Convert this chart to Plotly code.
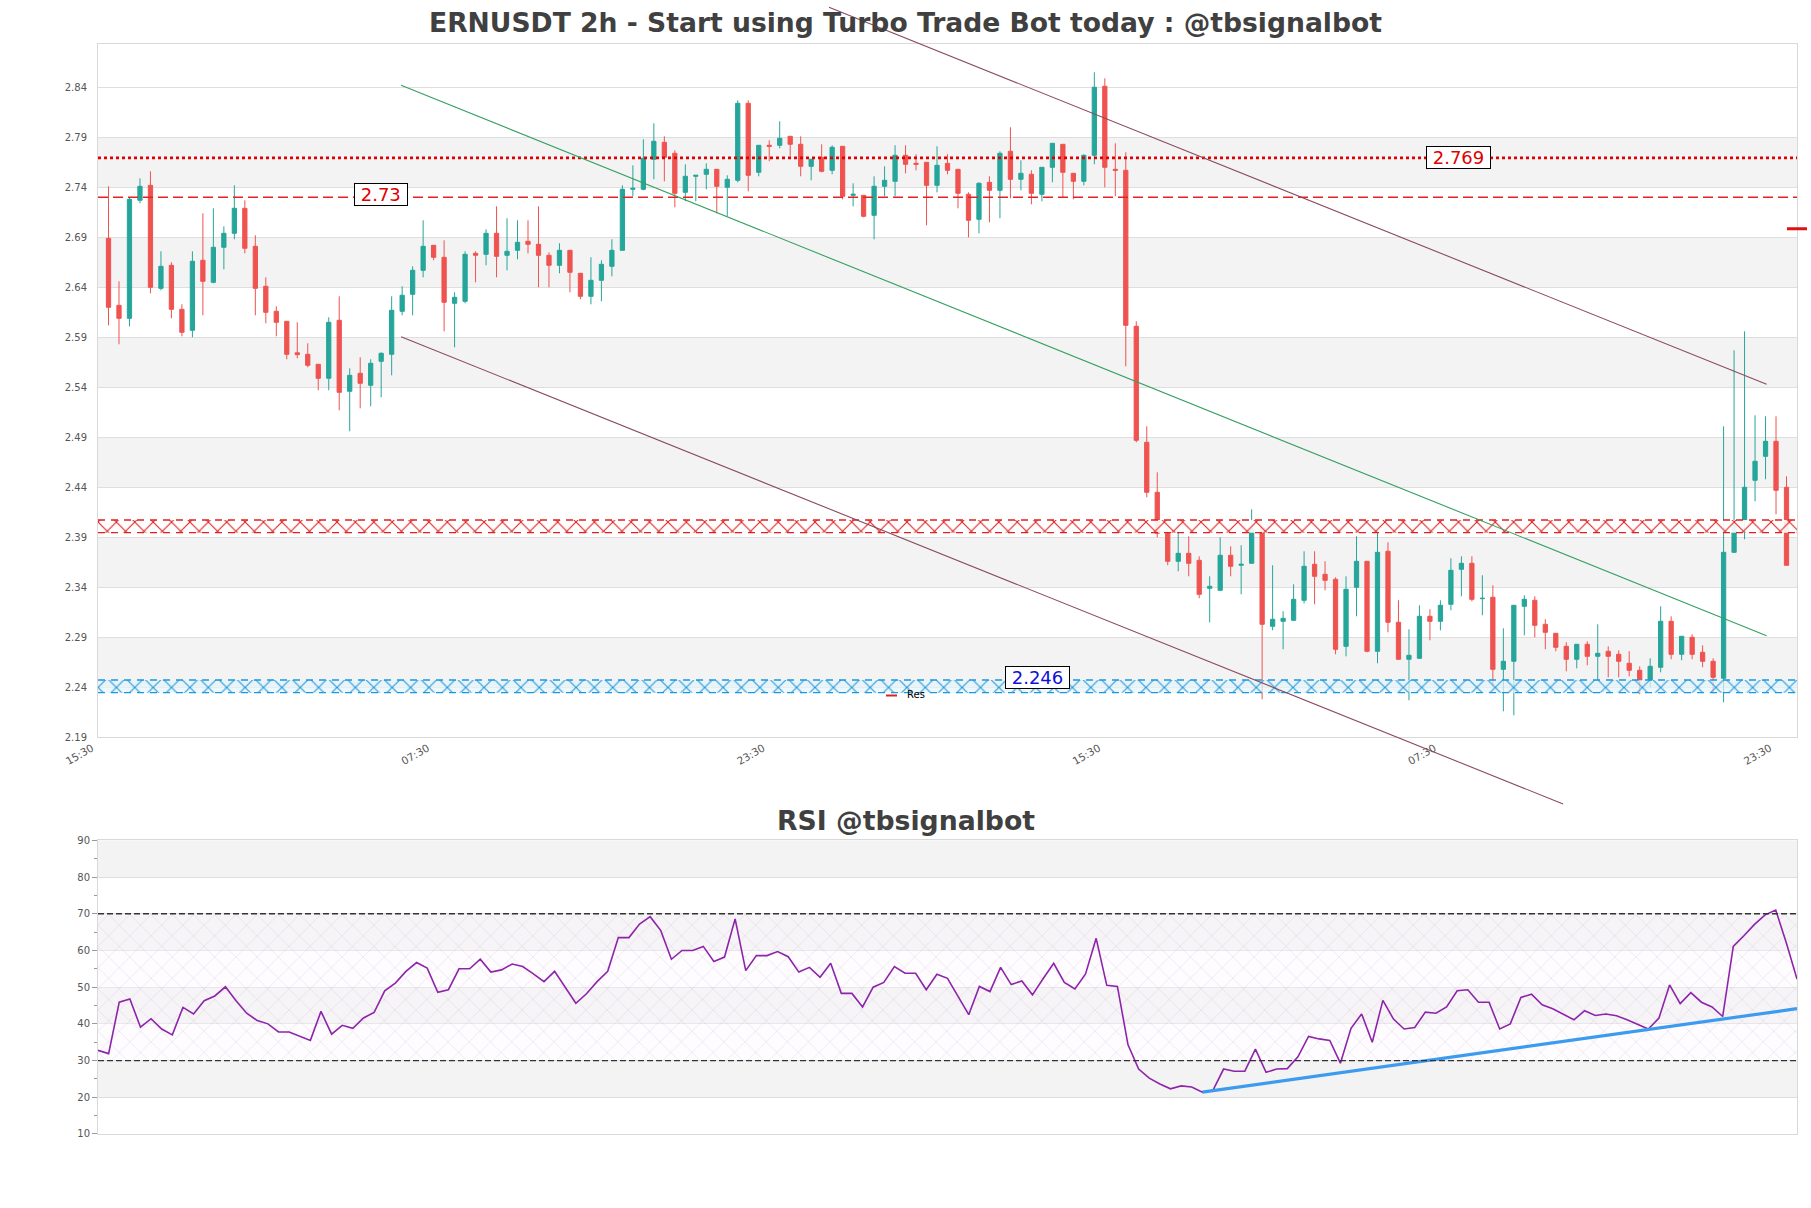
import plotly.graph_objects as go

# ---------------- data ----------------
time_labels = ["15:30", "07:30", "23:30", "15:30", "07:30", "23:30"]
time_tick_pos = [-1, 31, 63, 95, 127, 159]

open_ = [2.689, 2.622, 2.609, 2.727, 2.742, 2.639, 2.662, 2.618, 2.597, 2.667,
         2.645, 2.680, 2.694, 2.719, 2.681, 2.641, 2.616, 2.606, 2.5745, 2.573,
         2.563, 2.549, 2.607, 2.536, 2.554, 2.542, 2.566, 2.573, 2.616, 2.633,
         2.657, 2.682, 2.670, 2.624, 2.626, 2.674, 2.673, 2.694, 2.672, 2.677,
         2.686, 2.683, 2.672, 2.662, 2.677, 2.654, 2.631, 2.647, 2.661, 2.677,
         2.738, 2.738, 2.768, 2.785, 2.774, 2.735, 2.751, 2.753, 2.758, 2.740,
         2.747, 2.824, 2.755, 2.782, 2.782, 2.791, 2.783, 2.761, 2.770, 2.757,
         2.781, 2.732, 2.732, 2.712, 2.741, 2.746, 2.772, 2.764, 2.765, 2.742,
         2.764, 2.758, 2.733, 2.708, 2.745, 2.737, 2.776, 2.748, 2.753, 2.733,
         2.760, 2.783, 2.754, 2.746, 2.772, 2.841, 2.758, 2.757, 2.601, 2.485,
         2.435, 2.394, 2.366, 2.374, 2.367, 2.339, 2.337, 2.372, 2.362, 2.364,
         2.400, 2.301, 2.306, 2.307, 2.327, 2.363, 2.353, 2.348, 2.281, 2.340,
         2.366, 2.276, 2.376, 2.305, 2.268, 2.269, 2.311, 2.306, 2.323, 2.358,
         2.364, 2.3286, 2.330, 2.258, 2.266, 2.321, 2.327, 2.303, 2.294, 2.281,
         2.268, 2.283, 2.271, 2.276, 2.273, 2.264, 2.257, 2.247, 2.260, 2.306,
         2.273, 2.290, 2.275, 2.266, 2.249, 2.375, 2.407, 2.447, 2.471, 2.486,
         2.440]
high = [2.741, 2.646, 2.730, 2.749, 2.756, 2.676, 2.665, 2.623, 2.676, 2.714,
        2.719, 2.701, 2.742, 2.727, 2.692, 2.650, 2.621, 2.606, 2.605, 2.584,
        2.563, 2.610, 2.631, 2.559, 2.570, 2.568, 2.575, 2.631, 2.641, 2.661,
        2.707, 2.682, 2.687, 2.635, 2.676, 2.676, 2.698, 2.721, 2.709, 2.707,
        2.707, 2.721, 2.675, 2.684, 2.677, 2.654, 2.670, 2.667, 2.688, 2.742,
        2.762, 2.788, 2.804, 2.791, 2.777, 2.763, 2.752, 2.764, 2.758, 2.752,
        2.827, 2.827, 2.782, 2.787, 2.806, 2.791, 2.791, 2.768, 2.783, 2.782,
        2.781, 2.744, 2.732, 2.751, 2.761, 2.782, 2.782, 2.773, 2.765, 2.781,
        2.773, 2.758, 2.735, 2.745, 2.751, 2.776, 2.800, 2.767, 2.757, 2.760,
        2.784, 2.783, 2.754, 2.773, 2.855, 2.849, 2.784, 2.775, 2.606, 2.501,
        2.455, 2.394, 2.406, 2.391, 2.371, 2.351, 2.390, 2.381, 2.382, 2.418,
        2.400, 2.362, 2.316, 2.343, 2.376, 2.376, 2.366, 2.350, 2.351, 2.391,
        2.366, 2.397, 2.385, 2.327, 2.298, 2.322, 2.318, 2.327, 2.369, 2.371,
        2.371, 2.352, 2.342, 2.299, 2.322, 2.332, 2.331, 2.308, 2.294, 2.285,
        2.283, 2.286, 2.303, 2.281, 2.277, 2.276, 2.261, 2.269, 2.321, 2.311,
        2.291, 2.293, 2.282, 2.269, 2.501, 2.577, 2.596, 2.512, 2.511, 2.511,
        2.451]
low = [2.602, 2.583, 2.601, 2.724, 2.634, 2.637, 2.609, 2.591, 2.590, 2.612,
       2.644, 2.658, 2.688, 2.674, 2.612, 2.604, 2.591, 2.568, 2.569, 2.560,
       2.537, 2.537, 2.517, 2.496, 2.519, 2.521, 2.530, 2.552, 2.612, 2.612,
       2.650, 2.667, 2.596, 2.580, 2.624, 2.645, 2.662, 2.650, 2.657, 2.668,
       2.674, 2.640, 2.640, 2.654, 2.635, 2.628, 2.623, 2.626, 2.651, 2.677,
       2.731, 2.737, 2.748, 2.746, 2.720, 2.726, 2.726, 2.738, 2.714, 2.711,
       2.745, 2.736, 2.751, 2.766, 2.779, 2.771, 2.751, 2.747, 2.755, 2.753,
       2.728, 2.721, 2.710, 2.688, 2.731, 2.731, 2.754, 2.757, 2.702, 2.735,
       2.753, 2.719, 2.690, 2.694, 2.705, 2.709, 2.729, 2.737, 2.723, 2.726,
       2.745, 2.730, 2.728, 2.742, 2.763, 2.740, 2.731, 2.561, 2.485, 2.430,
       2.390, 2.362, 2.356, 2.351, 2.329, 2.305, 2.337, 2.351, 2.333, 2.364,
       2.228, 2.297, 2.278, 2.307, 2.324, 2.323, 2.337, 2.273, 2.271, 2.311,
       2.275, 2.264, 2.295, 2.268, 2.227, 2.269, 2.287, 2.297, 2.317, 2.331,
       2.326, 2.312, 2.241, 2.216, 2.212, 2.292, 2.290, 2.278, 2.276, 2.256,
       2.259, 2.262, 2.247, 2.250, 2.250, 2.251, 2.233, 2.240, 2.255, 2.268,
       2.267, 2.268, 2.260, 2.234, 2.225, 2.375, 2.388, 2.426, 2.448, 2.413,
       2.362]
close = [2.620, 2.609, 2.728, 2.741, 2.640, 2.661, 2.618, 2.595, 2.666, 2.646,
         2.680, 2.694, 2.719, 2.679, 2.639, 2.615, 2.605, 2.573, 2.5727, 2.562,
         2.549, 2.605, 2.535, 2.552, 2.544, 2.564, 2.574, 2.617, 2.632, 2.657,
         2.681, 2.670, 2.625, 2.630, 2.673, 2.672, 2.694, 2.671, 2.676, 2.685,
         2.683, 2.672, 2.662, 2.677, 2.655, 2.631, 2.647, 2.663, 2.677, 2.738,
         2.739, 2.769, 2.786, 2.770, 2.734, 2.751, 2.752, 2.758, 2.741, 2.748,
         2.824, 2.752, 2.782, 2.781, 2.789, 2.783, 2.761, 2.768, 2.756, 2.780,
         2.731, 2.733, 2.711, 2.741, 2.747, 2.772, 2.763, 2.763, 2.742, 2.762,
         2.757, 2.734, 2.707, 2.744, 2.737, 2.774, 2.748, 2.754, 2.734, 2.760,
         2.784, 2.755, 2.746, 2.772, 2.840, 2.760, 2.757, 2.602, 2.487, 2.435,
         2.394, 2.366, 2.374, 2.364, 2.333, 2.341, 2.372, 2.361, 2.363, 2.399,
         2.303, 2.308, 2.309, 2.328, 2.361, 2.351, 2.347, 2.278, 2.338, 2.366,
         2.276, 2.375, 2.305, 2.268, 2.272, 2.311, 2.306, 2.322, 2.357, 2.364,
         2.328, 2.329, 2.258, 2.266, 2.322, 2.328, 2.302, 2.295, 2.280, 2.268,
         2.283, 2.271, 2.274, 2.271, 2.266, 2.257, 2.247, 2.261, 2.306, 2.273,
         2.291, 2.273, 2.266, 2.250, 2.375, 2.404, 2.440, 2.466, 2.486, 2.437,
         2.362]
rsi = [32.8, 31.9, 45.9, 46.8, 39.1, 41.4, 38.6, 37.0, 44.5, 42.7,
       46.3, 47.6, 50.1, 46.3, 42.9, 40.9, 40.0, 37.8, 37.8, 36.6,
       35.5, 43.4, 37.2, 39.6, 38.8, 41.6, 43.1, 49.0, 51.1, 54.3,
       56.7, 55.2, 48.6, 49.3, 55.0, 55.0, 57.6, 54.1, 54.7, 56.3,
       55.6, 53.6, 51.5, 54.3, 50.0, 45.6, 48.2, 51.5, 54.3, 63.5,
       63.5, 67.2, 69.2, 65.4, 57.6, 60.0, 60.0, 61.1, 57.0, 58.2,
       68.6, 54.5, 58.6, 58.6, 59.7, 58.3, 54.1, 55.4, 52.7, 56.5,
       48.3, 48.3, 44.6, 50.0, 51.3, 55.6, 53.8, 53.8, 49.3, 53.5,
       52.4, 47.5, 42.5, 50.2, 48.8, 55.4, 50.7, 51.7, 47.9, 52.3,
       56.5, 51.3, 49.5, 53.6, 63.3, 50.5, 50.2, 34.3, 27.7, 25.2,
       23.6, 22.3, 23.1, 22.8, 21.4, 21.9, 27.7, 27.1, 27.1, 33.1,
       26.8, 27.7, 27.8, 31.0, 36.6, 35.9, 35.5, 29.3, 38.8, 42.7,
       35.0, 46.4, 41.3, 38.6, 39.0, 43.2, 42.9, 44.6, 49.0, 49.3,
       45.9, 45.9, 38.6, 40.0, 47.2, 48.1, 45.2, 44.1, 42.5, 41.1,
       43.6, 42.3, 42.7, 42.2, 41.1, 39.8, 38.6, 41.6, 50.6, 45.5,
       48.5, 45.9, 44.6, 42.0, 61.1, 64.0, 67.1, 69.7, 71.0, 62.0,
       52.2]

# levels / zones / trendlines (data units)
res_dotted_level = 2.7695
res_dashed_level = 2.730
res_zone = [2.3946, 2.4073]
sup_zone = [2.2346, 2.2473]
last_price_mark = 2.6986
channel_upper = [[68.7, 158.1], [2.920, 2.543]]
channel_lower = [[27.9, 138.7], [2.5906, 2.1233]]
channel_mid = [[27.9, 158.1], [2.842, 2.2916]]
rsi_trend = [[104, 160], [21.4, 44.15]]
labels = [("2.769", 128.7, 2.7703, "#e00000"),
          ("2.73", 26.0, 2.7325, "#e00000"),
          ("2.246", 88.6, 2.2496, "#1010d8")]

# ---------------- geometry ----------------
W, H = 1811, 1208
ML, MR, MT, MB = 98, 14, 44, 74
main_dom = [0.36394, 1.0]
rsi_dom = [0.0, 0.26945]
y_rng = [2.19, 2.8833]
x_rng = [-1.001, 161]

idx = list(range(len(open_)))
ridx = list(range(len(rsi)))

fig = go.Figure()

FONT = "DejaVu Sans"
GRID = "#dedede"
BAND = "#f3f3f3"

# hatched zones
for (lo, hi), col, bg in [(res_zone, "#e02020", "rgba(255,255,255,0.9)"),
                          (sup_zone, "#1e96dc", "rgba(230,245,252,0.7)")]:
    fig.add_trace(go.Scatter(
        x=[x_rng[0], x_rng[1], x_rng[1], x_rng[0], x_rng[0]],
        y=[lo, lo, hi, hi, lo], mode="lines", fill="toself",
        line=dict(width=0, color=col), fillcolor="rgba(0,0,0,0)",
        fillpattern=dict(shape="x", fgcolor=col, bgcolor=bg, fgopacity=1,
                         size=13, solidity=0.16),
        xaxis="x", yaxis="y", showlegend=False, hoverinfo="skip"))
    for lv in (lo, hi):
        fig.add_shape(type="line", xref="paper", yref="y", x0=0, x1=1, y0=lv, y1=lv,
                      line=dict(color=col, width=1.3, dash="7px,6px"))

fig.add_trace(go.Candlestick(
    x=idx, open=open_, high=high, low=low, close=close,
    increasing=dict(line=dict(color="#26a69a", width=1), fillcolor="#26a69a"),
    decreasing=dict(line=dict(color="#ef5350", width=1), fillcolor="#ef5350"),
    whiskerwidth=0, xaxis="x", yaxis="y", showlegend=False, hoverinfo="skip"))

# RSI hatch between 30 and 70
fig.add_trace(go.Scatter(
    x=[0, 160, 160, 0, 0], y=[30, 30, 70, 70, 30], mode="lines", fill="toself",
    line=dict(width=0, color="#b9a6c9"), fillcolor="rgba(0,0,0,0)",
    fillpattern=dict(shape="x", fgcolor="rgba(170,150,190,0.4)", fgopacity=1,
                     bgcolor="rgba(250,245,252,0.35)", size=15, solidity=0.06),
    xaxis="x2", yaxis="y2", showlegend=False, hoverinfo="skip"))

fig.add_trace(go.Scatter(x=ridx, y=rsi, mode="lines",
                         line=dict(color="#8e24aa", width=1.6),
                         xaxis="x2", yaxis="y2", showlegend=False, hoverinfo="skip"))
fig.add_trace(go.Scatter(x=rsi_trend[0], y=rsi_trend[1], mode="lines",
                         line=dict(color="#3d9bef", width=3.2),
                         xaxis="x2", yaxis="y2", showlegend=False, hoverinfo="skip"))

# background bands (main)
for b0 in [2.74, 2.64, 2.54, 2.44, 2.34, 2.24]:
    fig.add_shape(type="rect", xref="paper", yref="y", x0=0, x1=1, y0=b0, y1=b0 + 0.05,
                  fillcolor=BAND, line=dict(width=0), layer="below")
# background bands (rsi)
for b0 in [80, 60, 40, 20]:
    fig.add_shape(type="rect", xref="paper", yref="y2", x0=0, x1=1, y0=b0, y1=b0 + 10,
                  fillcolor=BAND, line=dict(width=0), layer="below")

# horizontal level lines
fig.add_shape(type="line", xref="paper", yref="y", x0=0, x1=1,
              y0=res_dotted_level, y1=res_dotted_level,
              line=dict(color="#e00000", width=2.8, dash="dot"))
fig.add_shape(type="line", xref="paper", yref="y", x0=0, x1=1,
              y0=res_dashed_level, y1=res_dashed_level,
              line=dict(color="#e52222", width=1.4, dash="10px,5px"))
for lv in (70, 30):
    fig.add_shape(type="line", xref="paper", yref="y2", x0=0, x1=1, y0=lv, y1=lv,
                  line=dict(color="#333333", width=1.3, dash="6px,3px"))

# channel lines (may extend outside the plot vertically)
def ydom(p):
    return (p - y_rng[0]) / (y_rng[1] - y_rng[0])

for (xs, ys), col in [(channel_upper, "#8a4a5e"), (channel_lower, "#8a4a5e"),
                      (channel_mid, "#36a060")]:
    fig.add_shape(type="line", xref="x", yref="y domain",
                  x0=xs[0], x1=xs[1], y0=ydom(ys[0]), y1=ydom(ys[1]),
                  line=dict(color=col, width=1.1))

# last price marker sticking out on the right
fig.add_shape(type="line", xref="paper", yref="y", x0=(1787 - ML) / (W - ML - MR),
              x1=(1807 - ML) / (W - ML - MR), y0=last_price_mark, y1=last_price_mark,
              line=dict(color="#e01010", width=3))

# value labels
NB = "\u00a0"
for txt, xv, yv, col in labels:
    fig.add_annotation(x=xv, y=yv, xref="x", yref="y", text=NB + txt + NB, showarrow=False,
                       font=dict(family=FONT, size=18, color=col),
                       bgcolor="white", bordercolor="black", borderwidth=1, borderpad=0)

# small legend "Res"
PW, PH = W - ML - MR, H - MT - MB
fig.add_shape(type="line", xref="paper", yref="paper",
              x0=(886 - ML) / PW, x1=(897 - ML) / PW,
              y0=(H - MB - 695.5) / PH, y1=(H - MB - 695.5) / PH,
              line=dict(color="#d62728", width=2))
fig.add_annotation(xref="paper", yref="paper", x=(905 - ML) / PW, y=(H - MB - 694.5) / PH,
                   text="Res", showarrow=False, xanchor="left", yanchor="middle",
                   font=dict(family=FONT, size=10, color="black"))

# RSI title
fig.add_annotation(xref="paper", yref="paper", x=(905.5 - ML) / PW, y=(H - MB - 820) / PH,
                   text="RSI @tbsignalbot", showarrow=False, xanchor="center", yanchor="middle",
                   font=dict(family=FONT, size=26.7, color="#404040", weight="bold"))

fig.update_layout(
    width=W, height=H,
    margin=dict(l=ML, r=MR, t=MT, b=MB),
    paper_bgcolor="white", plot_bgcolor="white",
    boxgap=0.42,
    showlegend=False,
    title=dict(text="ERNUSDT 2h - Start using Turbo Trade Bot today : @tbsignalbot",
               x=0.5, xref="container", xanchor="center",
               y=1 - 22.5 / H, yref="container", yanchor="middle",
               font=dict(family=FONT, size=26.6, color="#404040", weight="bold")),
    font=dict(family=FONT, color="#555555"),
    xaxis=dict(domain=[0, 1], anchor="y", range=x_rng, rangeslider=dict(visible=False),
               tickmode="array", tickvals=time_tick_pos, ticktext=time_labels,
               tickangle=-30, tickfont=dict(size=10.5, color="#555555"),
               ticklabelshift=-6,
               showgrid=False, zeroline=False, showline=True, mirror=True,
               linecolor="#d9d9d9", linewidth=1, ticks=""),
    yaxis=dict(domain=main_dom, anchor="x", range=y_rng, tick0=2.19, dtick=0.05,
               tickformat=".2f", tickfont=dict(size=10, color="#555555"),
               showgrid=True, gridcolor=GRID, gridwidth=1, zeroline=False,
               showline=True, mirror=True, linecolor="#d9d9d9", linewidth=1,
               ticks="outside", ticklen=8, tickcolor="rgba(0,0,0,0)"),
    xaxis2=dict(domain=[0, 1], anchor="y2", range=[0, 160], showticklabels=False,
                showgrid=False, zeroline=False, showline=True, mirror=True,
                linecolor="#d9d9d9", linewidth=1, ticks=""),
    yaxis2=dict(domain=rsi_dom, anchor="x2", range=[10, 90], tick0=10, dtick=10,
                tickfont=dict(size=10, color="#555555"),
                showgrid=True, gridcolor=GRID, gridwidth=1, zeroline=False,
                showline=True, mirror=True, linecolor="#d9d9d9", linewidth=1,
                ticks="outside", ticklen=5, tickcolor="#999999",
                minor=dict(dtick=5, tick0=5, ticks="outside", ticklen=3,
                           tickcolor="#999999", showgrid=False)),
)

fig.write_html("out.html")
